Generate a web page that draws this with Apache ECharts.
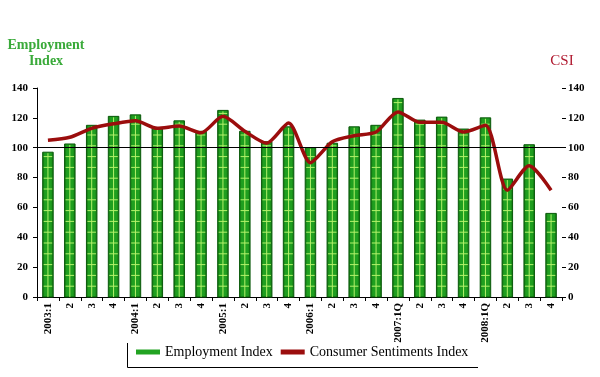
<!DOCTYPE html>
<html>
<head>
    <meta charset="UTF-8">
    <title>Employment Index and CSI</title>
    <script src="https://cdn.jsdelivr.net/npm/echarts@6/dist/echarts.min.js"></script>
</head>
<body style="margin: 0;background: #fff;">
<div id="chart" style="width: 600px;height: 377px;"></div>
<script type="text/javascript">
    var quarters = ['2003:1', '2', '3', '4', '2004:1', '2', '3', '4', '2005:1', '2', '3', '4',
        '2006:1', '2', '3', '4', '2007:1Q', '2', '3', '4', '2008:1Q', '2', '3', '4'];
    var employment = [97, 102.5, 115, 121, 122, 113, 118, 111, 125, 111, 104, 114,
        100, 103, 114, 115, 133, 118.5, 120.5, 112.5, 120, 79, 102, 56];
    var csi = [105, 107, 113, 116, 118, 113, 114.5, 110, 121, 111, 103, 116.5,
        90, 104, 108, 110.5, 124, 117, 117, 110.5, 115, 71.5, 88, 71.5];
    var axisTicks = {min: 0, max: 140, interval: 20};

    var serif = 'Liberation Serif';
    var chart = echarts.init(document.getElementById('chart'), null, {renderer: 'canvas'});

    // striped green bars like the original (dark edges, light grid inside)
    function renderBar(params, api) {
        var top = api.coord([api.value(0), api.value(1)]);
        var base = api.coord([api.value(0), 0]);
        var w = api.size([1, 0])[0] * 0.48;
        var left = top[0] - w / 2;
        var h = base[1] - top[1];
        var children = [{
            type: 'rect',
            shape: {x: left, y: top[1], width: w, height: h},
            style: {
                fill: new echarts.graphic.LinearGradient(0, 0, 1, 0, [
                    {offset: 0, color: '#0d650d'},
                    {offset: 0.22, color: '#1f9f1f'},
                    {offset: 0.78, color: '#1f9f1f'},
                    {offset: 1, color: '#0d650d'}
                ]),
                stroke: '#0a5a0a',
                lineWidth: 1
            }
        }];
        for (var y = base[1] - 10.8; y > top[1] + 2; y -= 10.8) {
            children.push({
                type: 'line',
                shape: {x1: left + 1, y1: y, x2: left + w - 1, y2: y},
                style: {stroke: '#b4f26a', lineWidth: 1}
            });
        }
        children.push({
            type: 'line',
            shape: {x1: top[0], y1: top[1] + 1, x2: top[0], y2: base[1]},
            style: {stroke: '#b4f26a', lineWidth: 1}
        });
        return {type: 'group', children: children};
    }

    var option = {
        animation: false,
        grid: {left: 37, right: 38, top: 88, bottom: 80},
        legend: {
            left: 136,
            top: 345,
            padding: 0,
            itemGap: 8,
            itemWidth: 24,
            itemHeight: 5,
            textStyle: {fontFamily: serif, fontSize: 14, color: '#000'},
            data: [
                {name: 'Employment Index', icon: 'rect'},
                {name: 'Consumer Sentiments Index', icon: 'rect'}
            ]
        },
        xAxis: {
            type: 'category',
            data: quarters,
            boundaryGap: true,
            axisLine: {lineStyle: {color: '#000', width: 1}},
            axisTick: {show: true, length: 4, interval: 0, lineStyle: {color: '#000'}},
            axisLabel: {
                interval: 0,
                rotate: 90,
                margin: 6,
                fontFamily: serif,
                fontWeight: 'bold',
                fontSize: 11,
                color: '#000'
            }
        },
        yAxis: [{
            type: 'value',
            position: 'left',
            min: axisTicks.min,
            max: axisTicks.max,
            interval: axisTicks.interval,
            splitLine: {show: false},
            axisLine: {show: true, lineStyle: {color: '#000'}},
            axisTick: {show: true, length: 4, lineStyle: {color: '#000'}},
            axisLabel: {margin: 9, fontFamily: serif, fontWeight: 'bold', fontSize: 11, color: '#000'}
        }, {
            type: 'value',
            position: 'right',
            min: axisTicks.min,
            max: axisTicks.max,
            interval: axisTicks.interval,
            splitLine: {show: false},
            axisLine: {show: false},
            axisTick: {show: true, length: 4, lineStyle: {color: '#000'}},
            axisLabel: {margin: 6, fontFamily: serif, fontWeight: 'bold', fontSize: 11, color: '#000'}
        }],
        series: [{
            name: 'Employment Index',
            type: 'custom',
            renderItem: renderBar,
            itemStyle: {color: '#22a322'},
            encode: {x: 0, y: 1},
            data: employment.map(function (v, i) { return [i, v]; }),
            z: 2
        }, {
            name: 'Consumer Sentiments Index',
            type: 'line',
            yAxisIndex: 1,
            data: csi,
            smooth: 0.25,
            symbol: 'none',
            itemStyle: {color: '#9b0d0d'},
            lineStyle: {color: '#9b0d0d', width: 3.5},
            z: 3,
            markLine: {
                silent: true,
                symbol: 'none',
                label: {show: false},
                lineStyle: {color: '#000', width: 1, type: 'solid'},
                data: [{yAxis: 100}]
            }
        }],
        graphic: [{
            type: 'text',
            x: 46,
            y: 53,
            style: {
                text: 'Employment\nIndex',
                fill: '#3aaa3a',
                font: 'bold 14px "Liberation Serif"',
                lineHeight: 16,
                textAlign: 'center',
                textVerticalAlign: 'middle'
            }
        }, {
            type: 'text',
            x: 562,
            y: 61,
            style: {
                text: 'CSI',
                fill: '#b01a30',
                font: '15px "Liberation Serif"',
                textAlign: 'center',
                textVerticalAlign: 'middle'
            }
        }, {
            type: 'polyline',
            shape: {points: [[127.5, 343], [127.5, 367.5], [478, 367.5]]},
            style: {stroke: '#000', lineWidth: 1, fill: null}
        }]
    };
    chart.setOption(option);
</script>
</body>
</html>
